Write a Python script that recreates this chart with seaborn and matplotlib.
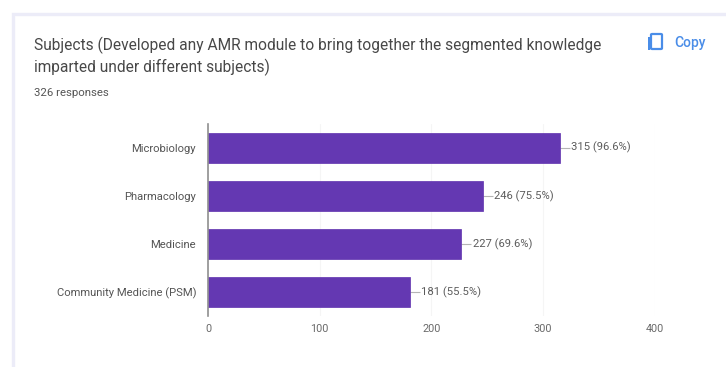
import matplotlib
matplotlib.use("Agg")
import matplotlib.pyplot as plt
from matplotlib.patches import FancyBboxPatch, Rectangle
import pandas as pd
import seaborn as sns

categories = ["Microbiology", "Pharmacology", "Medicine", "Community Medicine (PSM)"]
values = [315, 246, 227, 181]
percents = ["96.6%", "75.5%", "69.6%", "55.5%"]
xticks = [0, 100, 200, 300, 400]
title_lines = ["Subjects (Developed any AMR module to bring together the segmented knowledge",
               "imparted under different subjects)"]
responses = "326 responses"

W, H = 726, 367
sns.set_theme(style="white")
plt.rcParams["font.family"] = ["Roboto", "DejaVu Sans"]

fig = plt.figure(figsize=(W / 100, H / 100), dpi=100, facecolor="white")

def fx(px): return px / W
def fy(py): return 1 - py / H

# card outline
fig.add_artist(Rectangle((fx(12.5), fy(H + 5)), fx(W + 10), (H + 5 - 14) / H, transform=fig.transFigure,
                         facecolor="white", edgecolor="#ececf8", linewidth=2.4, zorder=0))

ax = fig.add_axes([fx(208), fy(316), fx(654.5 - 208), (316 - 124) / H])
df = pd.DataFrame({"subject": categories, "count": values})
sns.barplot(data=df, y="subject", x="count", order=categories, color="#6438b2",
            saturation=1, width=0.62, ax=ax, edgecolor="#5f30ae", linewidth=0.5, zorder=3)

ax.set_xlim(xticks[0], xticks[-1])
ax.set_xticks(xticks)
ax.set_xlabel("")
ax.set_ylabel("")
ax.grid(axis="x", color="#f5f5f5", linewidth=0.8, zorder=0)
ax.tick_params(axis="both", length=0)
ax.tick_params(axis="y", pad=8.5, labelsize=8.1, labelcolor="#555555")
ax.tick_params(axis="x", pad=5.5, labelsize=7.8, labelcolor="#6a6a6a")
for s in ["top", "right", "bottom"]:
    ax.spines[s].set_visible(False)
ax.spines["left"].set_color("#8f8f8f")
ax.spines["left"].set_linewidth(1.2)
ax.spines["left"].set_zorder(5)

for i, (v, p) in enumerate(zip(values, percents)):
    ax.plot([v, v + 9], [i, i], color="#b5b5b5", linewidth=0.8, zorder=2, solid_capstyle="butt")
    ax.text(v + 10, i, f"{v} ({p})", va="center", ha="left", fontsize=8.1, color="#5c5c5c")

fig.text(fx(34), fy(45), title_lines[0], fontsize=11.2, color="#484848", va="center", ha="left")
fig.text(fx(34), fy(67), title_lines[1], fontsize=11.2, color="#484848", va="center", ha="left")
fig.text(fx(34), fy(93), responses, fontsize=8.2, color="#555555", va="center", ha="left")

# copy icon and label
blue = "#4a8de8"
fig.add_artist(FancyBboxPatch((fx(651), fy(49)), fx(11), 15 / H, boxstyle="round,pad=0,rounding_size=0.002",
                              transform=fig.transFigure, facecolor="white", edgecolor=blue, linewidth=1.6, zorder=4))
fig.add_artist(Rectangle((fx(647.5), fy(50)), fx(2), 13 / H, transform=fig.transFigure,
                         facecolor=blue, edgecolor="none", zorder=4))
fig.text(fx(674), fy(43.5), "Copy", fontsize=10, color=blue, va="center", ha="left", fontweight="medium")

fig.savefig("out.png", dpi=100)
